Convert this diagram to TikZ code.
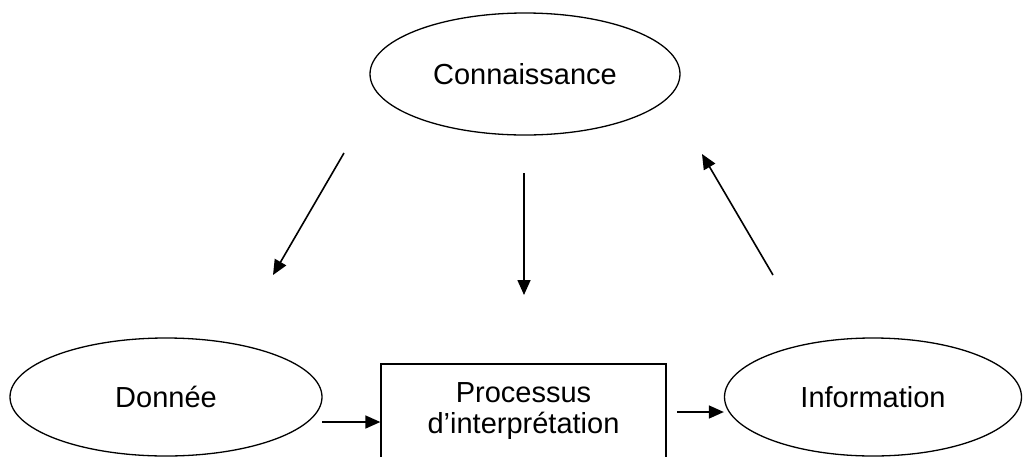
\documentclass[tikz,border=0pt]{standalone}
\usepackage{fontspec}
\setmainfont{Liberation Sans}
\usetikzlibrary{shapes.geometric,arrows.meta}
\begin{document}
\begin{tikzpicture}[x=1pt,y=-1pt,
  oval/.style={draw,line width=1.3pt,ellipse,inner sep=0pt,font=\fontsize{29}{31}\selectfont},
  procbox/.style={draw,line width=1.3pt,rectangle,inner sep=0pt,align=center,font=\fontsize{29}{31}\selectfont},
  arr/.style={line width=1.6pt,-{Triangle[length=15pt,width=13pt]}}]
\clip (0,0) rectangle (1026,456);
\fill[white] (0,0) rectangle (1026,456);
\node[oval,minimum width=310pt,minimum height=122pt] (con) at (525,74) {Connaissance};
\node[oval,minimum width=312pt,minimum height=118pt] (don) at (166,397) {Donnée};
\node[oval,minimum width=297pt,minimum height=118pt] (inf) at (873,397) {Information};
\node[procbox,minimum width=285pt,minimum height=94pt] (proc) at (523.5,411) {Processus\\d’interprétation};
\coordinate (l1) at (344,153);
\coordinate (l2) at (273,275);
\coordinate (m1) at (524,173);
\coordinate (m2) at (524,295);
\coordinate (r1) at (773,275);
\coordinate (r2) at (702,154);
\coordinate (a1) at (322,422);
\coordinate (b1) at (677,412);
\draw[arr] (l1) -- (l2);
\draw[arr] (m1) -- (m2);
\draw[arr] (r1) -- (r2);
\draw[arr] (a1) -- (a1 -| proc.west);
\draw[arr] (b1) -- (b1 -| inf.west);
\end{tikzpicture}
\end{document}
